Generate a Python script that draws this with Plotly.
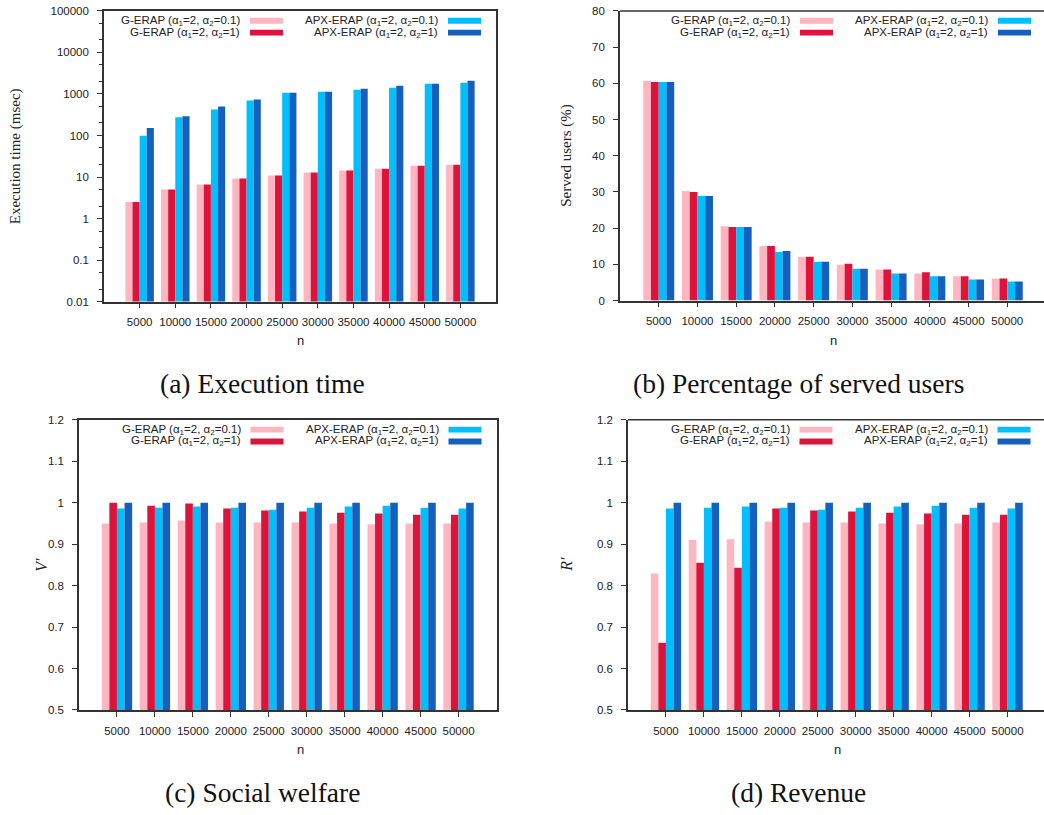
import plotly.graph_objects as go

# ---------------- data ----------------
n_labels = ["5000", "10000", "15000", "20000", "25000", "30000", "35000", "40000", "45000", "50000"]
series_names = [
    "G-ERAP (α<sub>1</sub>=2, α<sub>2</sub>=0.1)",
    "G-ERAP (α<sub>1</sub>=2, α<sub>2</sub>=1)",
    "APX-ERAP (α<sub>1</sub>=2, α<sub>2</sub>=0.1)",
    "APX-ERAP (α<sub>1</sub>=2, α<sub>2</sub>=1)",
]
colors = ["#FFB6C1", "#DC143C", "#00BFFF", "#1560BD"]

# (a) execution time (msec)
exec_g01 = [2.5, 5.0, 6.6, 9.2, 10.9, 12.8, 14.3, 15.9, 18.7, 19.8]
exec_g1 = [2.5, 5.0, 6.6, 9.2, 10.9, 12.8, 14.3, 15.9, 18.7, 19.8]
exec_apx01 = [98, 274, 424, 693, 1075, 1135, 1265, 1410, 1760, 1855]
exec_apx1 = [152, 289, 500, 733, 1075, 1135, 1337, 1574, 1760, 2070]

# (b) served users (%)
served_g01 = [60.7, 30.3, 20.5, 15.1, 12.1, 9.9, 8.6, 7.5, 6.7, 6.1]
served_g1 = [60.4, 30.0, 20.3, 15.1, 12.1, 10.2, 8.6, 7.8, 6.7, 6.1]
served_apx01 = [60.4, 28.9, 20.3, 13.45, 10.7, 8.8, 7.5, 6.7, 5.8, 5.3]
served_apx1 = [60.4, 28.9, 20.3, 13.7, 10.7, 8.8, 7.5, 6.7, 5.8, 5.3]

# (c) social welfare V'
welfare_g01 = [0.950, 0.952, 0.957, 0.952, 0.952, 0.952, 0.950, 0.948, 0.950, 0.950]
welfare_g1 = [1.000, 0.993, 0.998, 0.986, 0.981, 0.979, 0.976, 0.974, 0.971, 0.971]
welfare_apx01 = [0.986, 0.988, 0.991, 0.988, 0.983, 0.988, 0.991, 0.993, 0.988, 0.986]
welfare_apx1 = [1.0, 1.0, 1.0, 1.0, 1.0, 1.0, 1.0, 1.0, 1.0, 1.0]

# (d) revenue R'
revenue_g01 = [0.829, 0.910, 0.912, 0.955, 0.952, 0.952, 0.950, 0.948, 0.950, 0.952]
revenue_g1 = [0.662, 0.855, 0.843, 0.986, 0.981, 0.979, 0.976, 0.974, 0.971, 0.971]
revenue_apx01 = [0.986, 0.988, 0.991, 0.988, 0.983, 0.988, 0.991, 0.993, 0.988, 0.986]
revenue_apx1 = [1.0, 1.0, 1.0, 1.0, 1.0, 1.0, 1.0, 1.0, 1.0, 1.0]

log_ticks = [0.01, 0.1, 1, 10, 100, 1000, 10000, 100000]
log_tick_text = ["0.01", "0.1", "1", "10", "100", "1000", "10000", "100000"]
log_minor = [m * 10 ** e for e in range(-2, 5) for m in (2, 5)]
served_ticks = [0, 10, 20, 30, 40, 50, 60, 70, 80]
ratio_ticks = [0.5, 0.6, 0.7, 0.8, 0.9, 1.0, 1.1, 1.2]
ratio_tick_text = ["0.5", "0.6", "0.7", "0.8", "0.9", "1", "1.1", "1.2"]

captions = ["(a) Execution time", "(b) Percentage of served users", "(c) Social welfare", "(d) Revenue"]
y_titles = ["Execution time (msec)", "Served users (%)", "<i>V′</i>", "<i>R′</i>"]

# ---------------- layout constants (pixels) ----------------
W, H = 1044, 815
SANS = "Liberation Sans, Arial, sans-serif"
SERIF = "Liberation Serif, Times New Roman, serif"
AX = "#333333"

panels = [
    dict(l=104, r=496, t=5, b=300),
    dict(l=620, r=1046, t=5, b=299),
    dict(l=79, r=496.5, t=420, b=714.5),
    dict(l=628, r=1045.5, t=420, b=714.5),
]

datasets = [
    [exec_g01, exec_g1, exec_apx01, exec_apx1],
    [served_g01, served_g1, served_apx01, served_apx1],
    [welfare_g01, welfare_g1, welfare_apx01, welfare_apx1],
    [revenue_g01, revenue_g1, revenue_apx01, revenue_apx1],
]

xs = list(range(1, len(n_labels) + 1))

fig = go.Figure()

def px_x(x):
    return x / W

def px_y(y):
    return 1 - y / H

for pi, (p, data) in enumerate(zip(panels, datasets)):
    suffix = "" if pi == 0 else str(pi + 1)
    for si, vals in enumerate(data):
        fig.add_trace(go.Bar(
            x=xs, y=vals, name=series_names[si],
            marker=dict(color=colors[si], line=dict(width=0)),
            xaxis="x" + suffix, yaxis="y" + suffix,
            offsetgroup=str(si), showlegend=False,
        ))
    vis_r = min(p["r"], W)
    spacing = (p["r"] - p["l"]) / 11.0
    xmax = (vis_r - p["l"]) / spacing
    xa = dict(
        domain=[px_x(p["l"]), px_x(vis_r)],
        anchor="y" + suffix,
        range=[0, xmax],
        tickmode="array", tickvals=xs, ticktext=n_labels,
        ticks="outside", ticklen=5, tickwidth=1.2, tickcolor=AX,
        showline=True, linecolor=AX, linewidth=1.6,
        mirror=True if p["r"] <= W else False,
        showgrid=False, zeroline=False,
        tickfont=dict(family=SANS, size=11.5, color="#222"),
        ticklabelstandoff=4,
        fixedrange=True,
    )
    ya = dict(
        domain=[px_y(p["b"]), px_y(p["t"])],
        anchor="x" + suffix,
        ticks="outside", ticklen=5, tickwidth=1.2, tickcolor=AX,
        showline=True, linecolor=AX, linewidth=1.6,
        mirror=True if p["r"] <= W else False,
        showgrid=False, zeroline=False,
        tickfont=dict(family=SANS, size=11.5, color="#222"),
        ticklabelstandoff=6,
        fixedrange=True,
    )
    if pi == 0:
        ya.update(type="log", range=[-2, 5], tickmode="array", tickvals=log_ticks,
                  ticktext=log_tick_text,
                  minor=dict(tickmode="array", tickvals=log_minor, ticks="outside",
                             ticklen=3, tickcolor=AX, tickwidth=1))
    elif pi == 1:
        ya.update(range=[0, 80], tickmode="array", tickvals=served_ticks)
    else:
        ya.update(range=[0.5, 1.2], tickmode="array", tickvals=ratio_ticks, ticktext=ratio_tick_text)
    fig.layout["xaxis" + suffix] = xa
    fig.layout["yaxis" + suffix] = ya

    if p["r"] > W:
        fig.add_shape(type="line", xref="paper", yref="paper",
                      x0=px_x(p["l"]), x1=1.0, y0=px_y(p["t"]), y1=px_y(p["t"]),
                      line=dict(color=AX, width=1.6))

    R = p["r"]
    cols = [(R - 246, R - 213, R - 254), (R - 48, R - 15, R - 56)]
    rows = [p["t"] + 10, p["t"] + 22]
    order = [(0, 0, 0), (1, 0, 1), (2, 1, 0), (3, 1, 1)]
    for si, ci, ri in order:
        sx0, sx1, tx = cols[ci]
        ry = rows[ri]
        fig.add_shape(type="rect", xref="paper", yref="paper",
                      x0=px_x(sx0), x1=px_x(min(sx1, W)), y0=px_y(ry + 3), y1=px_y(ry - 3),
                      line=dict(width=0), fillcolor=colors[si])
        fig.add_annotation(xref="paper", yref="paper", x=px_x(tx), y=px_y(ry),
                           xanchor="right", yanchor="middle", showarrow=False,
                           text=series_names[si],
                           font=dict(family=SANS, size=11.5, color="#222"))

ytitle_pos = [(15, 152.5), (567, 152), (42, 567), (567, 567)]
ytitle_size = [15, 15, 16, 16]
for (x, y), t, s in zip(ytitle_pos, y_titles, ytitle_size):
    fig.add_annotation(xref="paper", yref="paper", x=px_x(x), y=px_y(y), text=t,
                       textangle=-90, showarrow=False, xanchor="center", yanchor="middle",
                       font=dict(family=SERIF, size=s, color="#222"))

xtitle_pos = [(300, 340), (833, 340), (300, 755), (837, 755)]
for x, y in xtitle_pos:
    fig.add_annotation(xref="paper", yref="paper", x=px_x(x), y=px_y(y), text="n",
                       showarrow=False, xanchor="center", yanchor="middle",
                       font=dict(family=SANS, size=13, color="#222"))

caption_pos = [(262, 383), (798, 383), (262, 798), (798, 798)]
for (x, y), t in zip(caption_pos, captions):
    fig.add_annotation(xref="paper", yref="paper", x=px_x(x), y=px_y(y), text=t,
                       showarrow=False, xanchor="center", yanchor="middle",
                       font=dict(family=SERIF, size=27.5, color="#111"))

fig.update_layout(
    width=W, height=H,
    margin=dict(l=0, r=0, t=0, b=0),
    paper_bgcolor="white", plot_bgcolor="white",
    barmode="group", bargap=0.2, bargroupgap=0.0,
    showlegend=False,
)

fig.write_html(
    "out.html",
    config={"displayModeBar": False},
    post_script="document.body.style.margin='0px';document.body.style.overflow='hidden';",
)
